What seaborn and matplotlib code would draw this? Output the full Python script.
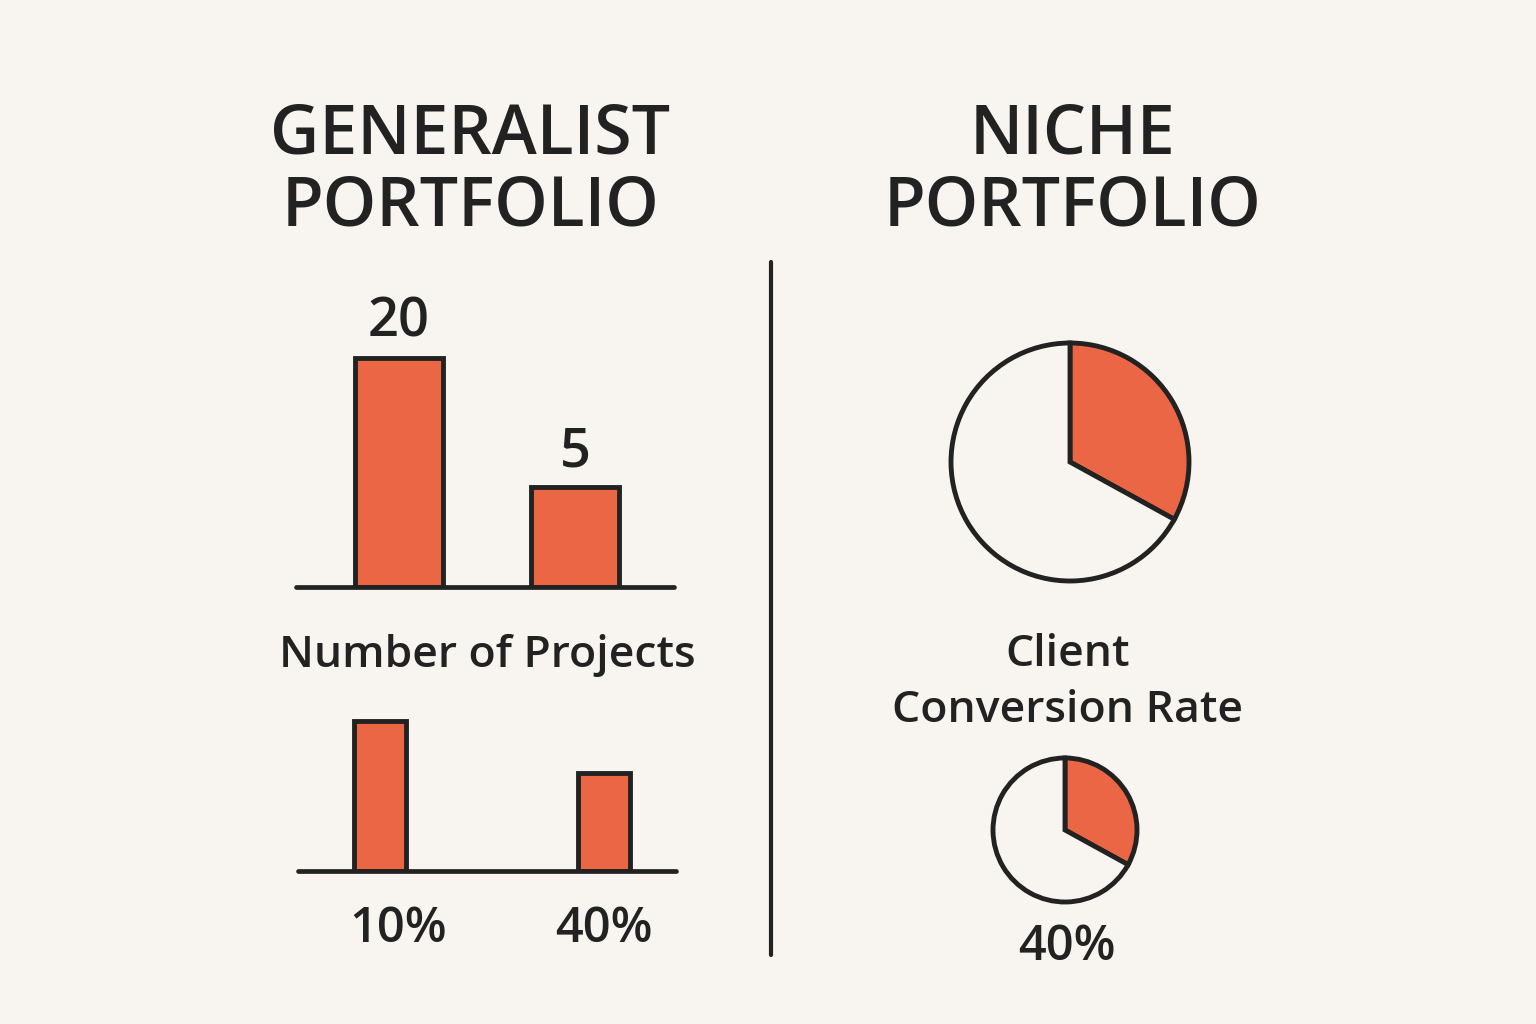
import matplotlib
matplotlib.use("Agg")
import matplotlib.pyplot as plt
import seaborn as sns
import pandas as pd

# ---- data ----
projects_labels = ["20", "5"]
projects_heights = [20, 8.7]          # visual bar heights as drawn
conv_labels = ["10%", "40%"]
conv_heights = [15, 9.8]              # visual bar heights as drawn
pie_big = [33, 67]                    # orange share vs remainder
pie_small = [33, 67]
pie_small_label = "40%"

BG = "#f8f5f0"
ORANGE = "#eb6645"
INK = "#222222"
W, H = 1536, 1024

sns.set_theme(style="white")
plt.rcParams["font.family"] = ["Open Sans", "DejaVu Sans"]

fig = plt.figure(figsize=(W / 100, H / 100), dpi=100)
fig.patch.set_facecolor(BG)


def px_axes(l, t, r, b):
    ax = fig.add_axes([l / W, 1 - b / H, (r - l) / W, (b - t) / H])
    ax.set_facecolor("none")
    ax.set_axis_off()
    return ax


def ftext(x, y, s, size, weight="semibold", **kw):
    fig.text(x / W, 1 - y / H, s, fontsize=size, color=INK, ha="center",
             va="center", fontweight=weight, **kw)


# titles
ftext(470, 136, "GENERALIST", 49)
ftext(470, 208, "PORTFOLIO", 49)
ftext(1073, 136, "NICHE", 49)
ftext(1073, 208, "PORTFOLIO", 49)

# divider
fig.add_artist(plt.Line2D([771 / W, 771 / W], [1 - 262 / H, 1 - 955 / H],
                          color=INK, lw=3, transform=fig.transFigure))

# ---- bar chart 1: number of projects ----
top1, base1 = 300, 587
ax1 = px_axes(296, top1, 674, base1)
df1 = pd.DataFrame({"cat": projects_labels, "val": projects_heights})
sns.barplot(data=df1, x="cat", y="val", ax=ax1, color=ORANGE, width=0.5,
            edgecolor=INK, linewidth=3.5, saturation=1)
ax1.set_axis_off()
ax1.set_xlim(-0.585, 1.5625)
ax1.set_ylim(0, 20 * (base1 - top1) / (base1 - 358))
ax1.axhline(0, color=INK, lw=3.4, clip_on=False)
for i, (lab, v) in enumerate(zip(projects_labels, projects_heights)):
    ax1.annotate(lab, (i, v), xytext=(0, 6), textcoords="offset points",
                 ha="center", va="bottom", fontsize=39, color=INK,
                 fontweight="semibold", annotation_clip=False)

ftext(487, 655, "Number of Projects", 32)

# ---- bar chart 2: conversion ----
top2, base2 = 700, 871
ax2 = px_axes(298, top2, 676, base2)
df2 = pd.DataFrame({"cat": conv_labels, "val": conv_heights})
sns.barplot(data=df2, x="cat", y="val", ax=ax2, color=ORANGE, width=0.23,
            edgecolor=INK, linewidth=3.5, saturation=1)
ax2.set_axis_off()
ax2.set_xlim(-0.366, 1.321)
ax2.set_ylim(0, 15 * (base2 - top2) / (base2 - 721))
ax2.axhline(0, color=INK, lw=3.4, clip_on=False)
for i, lab in enumerate(conv_labels):
    ax2.annotate(lab, (i + (0.08 if i == 0 else 0), 0), xytext=(0, -42),
                 textcoords="offset points", ha="center", va="center",
                 fontsize=35, color=INK, fontweight="semibold",
                 annotation_clip=False)


# ---- pies ----
def pie_at(cx, cy, r, vals):
    s = r * 1.15
    ax = px_axes(cx - s, cy - s, cx + s, cy + s)
    ax.pie(vals, colors=[ORANGE, BG], startangle=90, counterclock=False,
           wedgeprops=dict(edgecolor=INK, linewidth=3.5))
    ax.set_xlim(-1.15, 1.15)
    ax.set_ylim(-1.15, 1.15)
    ax.set_aspect("equal")
    return ax


pie_at(1070, 462, 119, pie_big)
ftext(1068, 655, "Client", 32)
ftext(1068, 710, "Conversion Rate", 32)
pie_at(1065, 830, 72, pie_small)
ftext(1067, 948, pie_small_label, 35)

fig.savefig("out.png", dpi=100, facecolor=BG)
